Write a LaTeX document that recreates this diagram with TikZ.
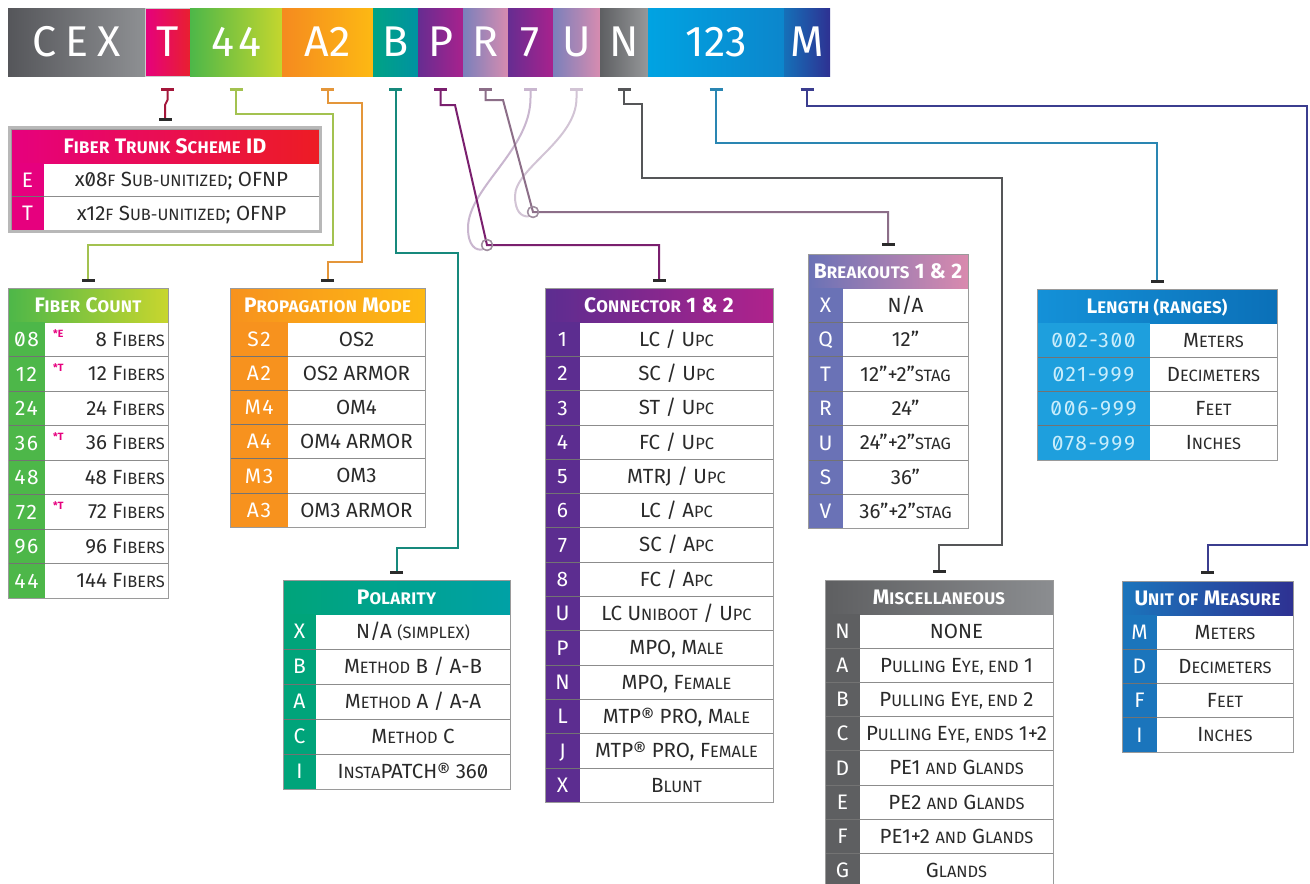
\documentclass[tikz,border=0pt]{standalone}
\usepackage{fontspec}
\setmainfont[Numbers=SlashedZero]{Fira Sans}
\usetikzlibrary{arrows.meta}
\makeatletter
\newcommand\smc[1]{{\fontsize{\the\dimexpr0.8\dimexpr\f@size pt\relax\relax}{20pt}\selectfont #1}}
\makeatother
% bar colours
\definecolor{cexL}{HTML}{55565A}\definecolor{cexR}{HTML}{8E9093}
\definecolor{tL}{HTML}{E6007E}\definecolor{tR}{HTML}{E8202F}
\definecolor{gL}{HTML}{4DB749}\definecolor{gR}{HTML}{C4D62E}
\definecolor{oL}{HTML}{F58A1F}\definecolor{oR}{HTML}{FDB913}
\definecolor{teL}{HTML}{00A385}\definecolor{teR}{HTML}{0092A1}
\definecolor{puL}{HTML}{662D91}\definecolor{puR}{HTML}{A8228D}
\definecolor{laL}{HTML}{7A80BB}\definecolor{laR}{HTML}{D78CB0}
\definecolor{nL}{HTML}{5E5F62}\definecolor{nR}{HTML}{96989A}
\definecolor{lbL}{HTML}{00A3E2}\definecolor{lbR}{HTML}{0C86CC}
\definecolor{dbL}{HTML}{1570B8}\definecolor{dbR}{HTML}{2E3192}
% table colours
\definecolor{ftL}{HTML}{E6007E}\definecolor{ftR}{HTML}{ED1C24}
\definecolor{fcL}{HTML}{4DB749}\definecolor{fcR}{HTML}{C8D62E}
\definecolor{pmL}{HTML}{F7921E}\definecolor{pmR}{HTML}{FDB913}
\definecolor{poL}{HTML}{00A47A}\definecolor{poR}{HTML}{00A1A6}
\definecolor{coL}{HTML}{5C2D90}\definecolor{coR}{HTML}{B0228C}
\definecolor{brL}{HTML}{6A72B6}\definecolor{brR}{HTML}{D98AAE}
\definecolor{miL}{HTML}{5E5F61}\definecolor{miR}{HTML}{8B8D90}
\definecolor{leL}{HTML}{1491D8}\definecolor{leR}{HTML}{0B70B8}\definecolor{leC}{HTML}{1E9FDD}\definecolor{leK}{HTML}{C9EDFB}
\definecolor{unL}{HTML}{1B75BC}\definecolor{unR}{HTML}{2E3192}
\definecolor{txt}{HTML}{2A2A2A}
\definecolor{sepgray}{HTML}{8C8C8C}
\definecolor{framegray}{HTML}{9A9A9A}
\definecolor{ringgray}{HTML}{A08FA0}
\definecolor{tipdark}{HTML}{2B2B2B}
% line colours
\definecolor{lnT}{HTML}{A4163A}\definecolor{ln44}{HTML}{A3C250}\definecolor{lnA2}{HTML}{E4963A}
\definecolor{lnB}{HTML}{16897C}\definecolor{lnP}{HTML}{7A1F6E}\definecolor{lnR}{HTML}{8C6E88}
\definecolor{ln7}{HTML}{C9B6CF}\definecolor{lnU}{HTML}{D2C4D5}\definecolor{lnN}{HTML}{555658}
\definecolor{ln123}{HTML}{2A86B2}\definecolor{lnM}{HTML}{3B3D8F}
\definecolor{starpink}{HTML}{E6007E}
\tikzset{
  seg/.style={inner sep=0pt, outer sep=0pt, minimum height=68pt, anchor=north west, text=white, font=\fontsize{43}{43}\selectfont},
  hdr/.style={inner sep=0pt, outer sep=0pt, minimum height=34pt, anchor=north west, text=white, font=\bfseries\fontsize{21}{21}\selectfont\addfontfeatures{LetterSpace=2}, text height=14.5pt, text depth=0pt},
  keyt/.style={text=white, font=\fontsize{21}{21}\selectfont\addfontfeatures{LetterSpace=8}, inner sep=0pt, text height=14.5pt, text depth=0pt},
  valt/.style={text=txt, font=\fontsize{20.5}{20.5}\selectfont, inner sep=0pt, text height=14pt, text depth=0pt},
  sepl/.style={draw=sepgray, line width=0.8pt},
  sepd/.style={draw=black!55, line width=0.8pt},
  frame/.style={draw=framegray, line width=1pt},
  conn/.style={line width=2pt, {Bar[width=13pt,line width=2.6pt]}-{Bar[width=13pt,line width=2.6pt,color=tipdark]}},
  connL/.style={line width=2pt, {Bar[width=13pt,line width=2.6pt]}-},
  ring/.style={circle, draw=ringgray, line width=1.3pt, minimum size=11pt, inner sep=0pt},
  starmark/.style={text=starpink, font=\bfseries\fontsize{10.5}{10.5}\selectfont, anchor=west, inner sep=0pt},
}
\newcommand\tbl[9]{%
  \def\tname{#1}\def\txa{#2}\def\tya{#3}\def\txb{#4}\def\txs{#5}\def\trh{#6}\def\tcol{#7}%
  \node[hdr, left color=#7, right color=#8, minimum width={#4-#2}] (#1) at (#2,#3) {#9};
}
\newcommand\trows[3][\tcol]{%
  \pgfmathsetmacro\tyh{\tya+34}%
  \pgfmathsetmacro\tyb{\tya+34+#2*\trh}%
  \fill[fill=#1] (\txa,\tyh) rectangle (\txs,\tyb);
  \foreach[count=\i] \k/\v in {#3}{
    \pgfmathsetmacro\yc{\tyh+(\i-0.5)*\trh}
    \pgfmathsetmacro\ys{\tyh+\i*\trh}
    \node[keyt] (\tname-k\i) at ({(\txa+\txs)/2},\yc) {\k};
    \node[valt] (\tname-v\i) at ({(\txs+\txb)/2},\yc) {\v};
    \ifnum\i<#2
      \draw[sepd] (\txa,\ys) -- (\txs,\ys);
      \draw[sepl] (\txs,\ys) -- (\txb,\ys);
    \fi
  }
  \draw[frame] (\txa,\tya) rectangle (\txb,\tyb);
}
\begin{document}
\begin{tikzpicture}[x=1pt,y=-1pt]
\useasboundingbox[fill=white] (0,0) rectangle (1310,884);
% ---------------- code bar ----------------
\node[seg, left color=cexL, right color=cexR, minimum width=137pt] (sCEX) at (8,8) {C\hspace{9pt}E\hspace{9pt}X};
\node[seg, left color=tL, right color=tR, minimum width=45pt, draw=black!20, line width=0.8pt] (sT) at (145,8) {T};
\node[seg, left color=gL, right color=gR, minimum width=92pt] (s44) at (190,8) {4\hspace{4pt}4};
\node[seg, left color=oL, right color=oR, minimum width=91pt] (sA2) at (282,8) {A2};
\node[seg, left color=teL, right color=teR, minimum width=45pt] (sB) at (373,8) {B};
\node[seg, left color=puL, right color=puR, minimum width=45pt] (sP) at (418,8) {P};
\node[seg, left color=laL, right color=laR, minimum width=45pt] (sR) at (463,8) {R};
\node[seg, left color=puL, right color=puR, minimum width=45pt] (s7) at (508,8) {7};
\node[seg, left color=laL, right color=laR, minimum width=47pt] (sU) at (553,8) {U};
\node[seg, left color=nL, right color=nR, minimum width=48pt] (sN) at (600,8) {N};
\node[seg, left color=lbL, right color=lbR, minimum width=136pt] (s123) at (648,8) {123};
\node[seg, left color=dbL, right color=dbR, minimum width=46pt] (sM) at (784,8) {M};
\foreach \s in {T,44,A2,B,P,R,7,U,N,123,M}{
  \coordinate (c\s) at ([yshift=-12pt]s\s.south);
}
% ---------------- Fiber trunk scheme ----------------
\tbl{ft}{11}{129}{319}{44}{33.5}{ftL}{ftR}{F\smc{IBER} T\smc{RUNK} S\smc{CHEME} ID}
\trows{2}{E/{x08\smc{F} S\smc{UB-UNITIZED}; OFNP},T/{x12\smc{F} S\smc{UB-UNITIZED}; OFNP}}
\draw[draw=black!28, line width=3pt] (9.5,127.5) rectangle (320.5,231.5);
% ---------------- Fiber count ----------------
\tbl{fc}{8}{288}{168}{45}{34.5}{fcL}{fcR}{F\smc{IBER} C\smc{OUNT}}
\fill[fcL] (8,322) rectangle (45,598);
\foreach[count=\i] \k/\v in {08/8,12/12,24/24,36/36,48/48,72/72,96/96,44/144}{
  \pgfmathsetmacro\yc{322+(\i-0.5)*34.5}
  \pgfmathsetmacro\ys{322+\i*34.5}
  \node[keyt] (fc-k\i) at (26.5,\yc) {\k};
  \node[valt, anchor=east] (fc-v\i) at (165,\yc) {\v\ F\smc{IBERS}};
  \ifnum\i<8
    \draw[sepd] (8,\ys) -- (45,\ys);
    \draw[sepl] (45,\ys) -- (168,\ys);
  \fi
}
\draw[frame] (8,288) rectangle (168,598);
\node[starmark] (fc-s1) at (53,{322+0.5*34.5-6}) {*E};
\node[starmark] (fc-s2) at (53,{322+1.5*34.5-6}) {*T};
\node[starmark] (fc-s4) at (53,{322+3.5*34.5-6}) {*T};
\node[starmark] (fc-s6) at (53,{322+5.5*34.5-6}) {*T};
% ---------------- Propagation mode ----------------
\tbl{pm}{230}{288}{425}{288}{34.2}{pmL}{pmR}{P\smc{ROPAGATION} M\smc{ODE}}
\trows{6}{S2/{OS2},A2/{OS2 ARMOR},M4/{OM4},A4/{OM4 ARMOR},M3/{OM3},A3/{OM3 ARMOR}}
% ---------------- Polarity ----------------
\tbl{po}{283}{580}{510}{316}{35}{poL}{poR}{P\smc{OLARITY}}
\trows{5}{X/{N/A \smc{(SIMPLEX)}},B/{M\smc{ETHOD} B / A-B},A/{M\smc{ETHOD} A / A-A},C/{M\smc{ETHOD} C},I/{I\smc{NSTA}PATCH® 360}}
% ---------------- Connector ----------------
\tbl{co}{545}{288}{773}{580}{34.3}{coL}{coR}{C\smc{ONNECTOR} 1 \& 2}
\trows{14}{1/{LC / U\smc{PC}},2/{SC / U\smc{PC}},3/{ST / U\smc{PC}},4/{FC / U\smc{PC}},5/{MTRJ / U\smc{PC}},6/{LC / A\smc{PC}},7/{SC / A\smc{PC}},8/{FC / A\smc{PC}},U/{LC U\smc{NIBOOT} / U\smc{PC}},P/{MPO, M\smc{ALE}},N/{MPO, F\smc{EMALE}},L/{MTP® PRO, M\smc{ALE}},J/{MTP® PRO, F\smc{EMALE}},X/{B\smc{LUNT}}}
% ---------------- Breakouts ----------------
\tbl{br}{808}{254}{968}{843}{34.4}{brL}{brR}{B\smc{REAKOUTS} 1 \& 2}
\trows{7}{X/{N/A},Q/{12''},T/{12''+2''\smc{STAG}},R/{24''},U/{24''+2''\smc{STAG}},S/{36''},V/{36''+2''\smc{STAG}}}
% ---------------- Miscellaneous ----------------
\tbl{mi}{825}{580}{1053}{860}{34.2}{miL}{miR}{M\smc{ISCELLANEOUS}}
\trows{8}{N/{NONE},A/{P\smc{ULLING} E\smc{YE, END} 1},B/{P\smc{ULLING} E\smc{YE, END} 2},C/{P\smc{ULLING} E\smc{YE, ENDS} 1+2},D/{PE1 \smc{AND} G\smc{LANDS}},E/{PE2 \smc{AND} G\smc{LANDS}},F/{PE1+2 \smc{AND} G\smc{LANDS}},G/{G\smc{LANDS}}}
% ---------------- Length ----------------
\begin{scope}[keyt/.append style={text=leK}]
\tbl{le}{1037}{289}{1277}{1150}{34.25}{leL}{leR}{L\smc{ENGTH (RANGES)}}
\trows[leC]{4}{002-300/{M\smc{ETERS}},021-999/{D\smc{ECIMETERS}},006-999/{F\smc{EET}},078-999/{I\smc{NCHES}}}
\end{scope}
% ---------------- Unit of measure ----------------
\tbl{un}{1122}{581}{1293}{1157}{34.25}{unL}{unR}{U\smc{NIT OF} M\smc{EASURE}}
\trows{4}{M/{M\smc{ETERS}},D/{D\smc{ECIMETERS}},F/{F\smc{EET}},I/{I\smc{NCHES}}}
% ---------------- end points ----------------
\coordinate (eFT) at ([yshift=8pt]ft.north);
\coordinate (eFC) at ([yshift=6pt]fc.north);
\coordinate (ePM) at ([yshift=6pt]pm.north);
\coordinate (ePO) at ([yshift=6pt]po.north);
\coordinate (eCO) at ([yshift=6pt]co.north);
\coordinate (eBR) at ([yshift=8pt]br.north);
\coordinate (eMI) at ([yshift=7pt]mi.north);
\coordinate (eLE) at ([yshift=6pt]le.north);
\coordinate (eUN) at ([yshift=7pt]un.north);
\node[ring] (jP) at (487,245) {};
\node[ring] (jR) at (533,212) {};
% ---------------- connectors ----------------
\draw[connL, draw=ln7] (c7) -- (530.5,98) .. controls (530.5,150) and (468,188) .. (468,228) .. controls (468,246) and (476,251) .. (jP.south west);
\draw[connL, draw=lnU] (cU) -- (576.5,98) .. controls (576.5,140) and (515,168) .. (515,196) .. controls (515,211) and (521,217) .. (jR.south west);
\draw[conn, draw=lnT] (cT) -- ++(0,12) -- ([yshift=16pt]eFT) -- (eFT);
\draw[conn, draw=ln44] (c44) |- (333,114) |- (88,245) -- (eFC);
\draw[conn, draw=lnA2] (cA2) |- (362,103) |- (327.5,262) -- (ePM);
\draw[conn, draw=lnB] (cB) |- (458,253) |- (396.5,548) -- (ePO);
\draw[conn, draw=lnP] (cP) |- (455,105) -- (jP.center) -| (eCO);
\draw[conn, draw=lnR] (cR) |- (503,100) -- (jR.center) -| (eBR);
\draw[conn, draw=lnN] (cN) |- (642,104) |- (1002,178) |- (939,545) -- (eMI);
\draw[conn, draw=ln123] (c123) |- (1157,143) -- (eLE);
\draw[conn, draw=lnM] (cM) |- (1307,106) |- (1207.5,545) -- (eUN);
\node[ring] at (jP) {};
\node[ring] at (jR) {};
\end{tikzpicture}
\end{document}
